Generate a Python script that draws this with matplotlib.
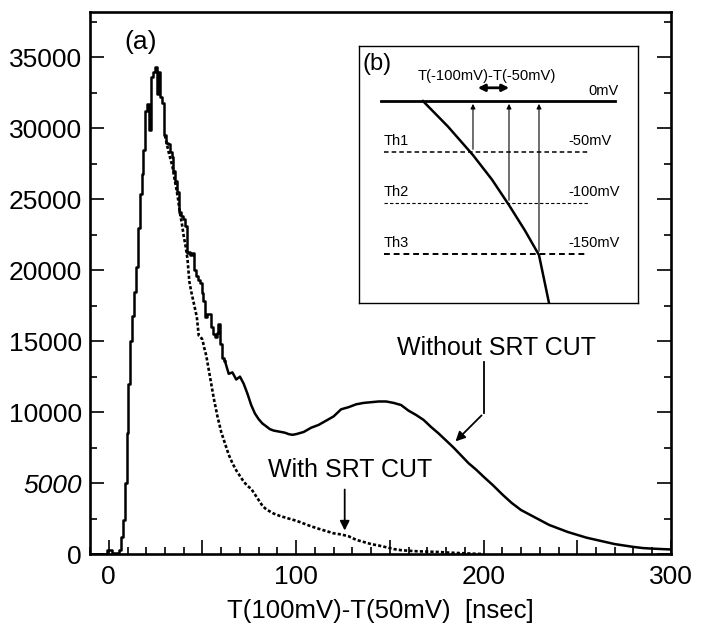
import matplotlib
matplotlib.use("Agg")
import matplotlib.pyplot as plt
from matplotlib.ticker import MultipleLocator, FuncFormatter

plt.rcParams['font.family'] = ['Liberation Sans', 'DejaVu Sans']

# T(100mV)-T(50mV) distribution, without SRT cut (solid)
t_all = [-10, -2, 0, 1, 2, 4, 5, 6, 7, 8, 9, 10, 11, 12, 13, 14, 15, 16, 17, 18, 19,
         20, 21, 22, 23, 24, 25, 26, 27, 28, 29, 30, 31, 32, 33, 34, 35, 36, 37, 38, 39,
         40, 41, 42, 43, 44, 45, 46, 47, 48, 49, 50, 51, 52, 53, 54, 55, 56, 57, 58, 59,
         60, 61, 62, 64, 66, 68, 70, 72, 74, 76, 78, 80, 82, 84, 86, 88, 90, 92, 94, 96,
         98, 100, 104, 108, 112, 116, 120, 124, 128, 132, 136, 140, 144, 148, 152, 156,
         160, 164, 168, 172, 176, 180, 184, 188, 192, 196, 200, 205, 210, 215, 220, 225,
         230, 235, 240, 245, 250, 255, 260, 265, 270, 275, 280, 285, 290, 295, 300]
n_all = [0, 0, 250, 300, 50, 50, 100, 300, 1200, 2400, 5000, 8500, 12000, 15000, 16800,
         18500, 20200, 23000, 25400, 26800, 28500, 31200, 31700, 29900, 33600, 34000,
         34300, 32400, 34000, 32200, 31800, 29500, 29000, 28900, 28300, 28000, 27000,
         26300, 25500, 24100, 23800, 23600, 23100, 21200, 21300, 21100, 21200, 20000,
         19600, 19300, 19100, 18400, 17800, 16700, 16900, 16900, 16000, 15500, 15300,
         15600, 16200, 14800, 13800, 13600, 12700, 12800, 12300, 12500, 12000, 11300,
         10500, 9900, 9500, 9200, 9000, 8800, 8700, 8650, 8600, 8550, 8450, 8400, 8450,
         8600, 8900, 9100, 9400, 9700, 10200, 10350, 10550, 10650, 10700, 10750, 10750,
         10650, 10500, 10100, 9800, 9450, 8950, 8500, 8000, 7500, 6950, 6400, 5950, 5450,
         4850, 4200, 3600, 3100, 2750, 2400, 2050, 1800, 1550, 1350, 1150, 1000, 850, 700,
         600, 500, 420, 380, 350, 320]

# with SRT cut (dotted), identical to the solid curve below ~30 ns
t_cut = [30, 31, 32, 33, 34, 35, 36, 37, 38, 39, 40, 41, 42, 43, 44, 45, 46, 47, 48, 49,
         50, 51, 52, 54, 56, 58, 60, 62, 64, 66, 68, 70, 72, 74, 76, 78, 80, 82, 84, 86,
         88, 90, 92, 94, 96, 98, 100, 104, 108, 112, 116, 120, 124, 128, 132, 136, 140,
         144, 148, 152, 156, 160, 165, 170, 175, 180, 185, 190, 195, 200]
n_cut = [29500, 28900, 28300, 27800, 27300, 26500, 25800, 25000, 24000, 23300, 22400,
         21700, 20800, 19200, 18500, 17900, 17300, 16700, 15400, 15300, 15100, 14500,
         14000, 12500, 11000, 9700, 8600, 7800, 7000, 6400, 5900, 5500, 5100, 4800, 4600,
         4200, 3800, 3400, 3150, 3000, 2850, 2750, 2650, 2580, 2500, 2420, 2350, 2150,
         1950, 1780, 1620, 1460, 1380, 1250, 1000, 850, 700, 600, 480, 350, 270, 230, 190,
         170, 150, 110, 80, 50, 20, 0]

# inset (b): pulse crossing the thresholds
levels_mv = [0, -50, -100, -150]
level_names = ['0mV', '-50mV', '-100mV', '-150mV']
th_names = ['', 'Th1', 'Th2', 'Th3']
pulse_t = [64, 89, 114, 133, 150, 166, 180, 190]
pulse_mv = [0, -25, -53, -77, -102, -127, -151, -198]
cross_t = [114, 150, 180]

fig = plt.figure(figsize=(7.1, 6.31), dpi=100)
ax = fig.add_axes([0.1268, 0.122, 0.8182, 0.859])

k = t_all.index(62) + 1  # binned-looking part, then the smooth tail
ax.plot(t_all[:k], n_all[:k], color='black', lw=1.8, drawstyle='steps-mid')
ax.plot(t_all[k - 1:], n_all[k - 1:], color='black', lw=1.8)
ax.plot(t_cut, n_cut, color='black', lw=1.9, ls=(0, (1.2, 0.8)))

ax.set_xlim(-10, 300)
ax.set_ylim(0, 38200)
ax.xaxis.set_major_locator(MultipleLocator(50))
ax.xaxis.set_major_formatter(FuncFormatter(lambda v, p: '%d' % v if v % 100 == 0 else ''))
ax.xaxis.set_minor_locator(MultipleLocator(10))
ax.yaxis.set_major_locator(MultipleLocator(5000))
ax.yaxis.set_minor_locator(MultipleLocator(2500))
ax.tick_params(which='both', direction='in', right=True, top=False, width=1.2,
               labelsize=19)
ax.tick_params(axis='y', pad=6)
ax.tick_params(axis='x', pad=8)
ax.tick_params(which='major', length=10)
ax.tick_params(which='minor', length=5)
for s in ax.spines.values():
    s.set_linewidth(1.9)
for lab in ax.get_yticklabels():
    if lab.get_text() == '5000':
        lab.set_style('italic')
ax.set_xlabel('T(100mV)-T(50mV)  [nsec]', fontsize=18.5, labelpad=7)

ax.text(17, 36050, '(a)', fontsize=19, ha='center', va='center')
ax.text(154, 14500, 'Without SRT CUT', fontsize=18, va='center')
ax.text(85, 5900, 'With SRT CUT', fontsize=18, va='center')
ax.plot([200, 200], [13540, 9910], color='black', lw=1.3)
ax.annotate('', xy=(184, 7800), xytext=(200, 9910),
            arrowprops=dict(arrowstyle='-|>', color='black', lw=1.3, mutation_scale=14))
ax.annotate('', xy=(125.9, 1460), xytext=(125.9, 4740),
            arrowprops=dict(arrowstyle='-|>', color='black', lw=1.3, mutation_scale=14))

# inset
ins = fig.add_axes([0.5056, 0.5198, 0.393, 0.4073])
ins.set_xlim(0, 279)
ins.set_ylim(-198, 54)
ins.set_xticks([])
ins.set_yticks([])
for s in ins.spines.values():
    s.set_linewidth(1.0)

ins.plot([22, 256], [0, 0], color='black', lw=2)
for mv, name, th, lw in zip(levels_mv[1:], level_names[1:], th_names[1:], [1.1, 0.8, 1.4]):
    ins.plot([25, 229], [mv, mv], color='black', lw=lw, ls=(0, (3, 2)))
    ins.text(25, mv + 4, th, fontsize=10.5, va='bottom')
    ins.text(209, mv + 4, name, fontsize=10.5, va='bottom')
ins.text(229, 3, level_names[0], fontsize=10.5, va='bottom')
ins.plot(pulse_t, pulse_mv, color='black', lw=1.8)
for t, mv in zip(cross_t, levels_mv[1:]):
    ins.annotate('', xy=(t, 0), xytext=(t, mv),
                 arrowprops=dict(arrowstyle='-|>', color='black', lw=0.8, mutation_scale=7))
ins.annotate('', xy=(116, 13), xytext=(153, 13),
             arrowprops=dict(arrowstyle='<|-|>', color='black', lw=2, mutation_scale=10))
ins.text(128, 25, 'T(-100mV)-T(-50mV)', fontsize=10.6, ha='center', va='center')
ins.text(4, 36, '(b)', fontsize=17, va='center')

fig.savefig('out.png', dpi=100)
